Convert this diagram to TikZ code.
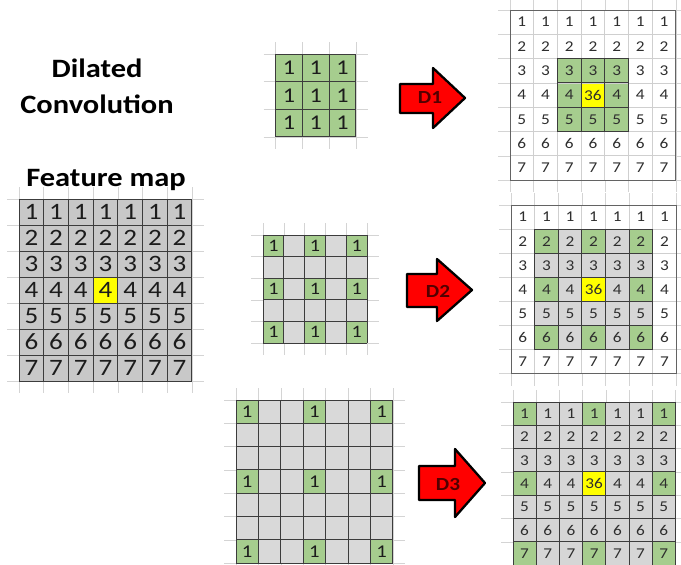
\documentclass[tikz,border=0pt]{standalone}
\usepackage{fontspec}
\setmainfont{Carlito}[FakeStretch=1.15]
\definecolor{fmgray}{HTML}{C8C8C8}
\definecolor{kgray}{HTML}{D9D9D9}
\definecolor{ogray}{HTML}{D6D6D6}
\definecolor{kgreen}{HTML}{A6CD8E}
\definecolor{hl}{HTML}{FFFF00}
\definecolor{bgline}{HTML}{D4D4D4}
\definecolor{lightline}{HTML}{CFCFCF}
\definecolor{darkline}{HTML}{3C3C3C}
\definecolor{txtdark}{HTML}{1C1C1C}
\definecolor{txtout}{HTML}{2E2E2E}
\definecolor{dred}{HTML}{520000}
\newcommand\gridlines[7]{%
  \foreach \k in {0,...,#5}{\draw[#7] ({#1+#3*\k},{#2}) -- ({#1+#3*\k},{#2+#4*#6});}%
  \foreach \k in {0,...,#6}{\draw[#7] ({#1},{#2+#4*\k}) -- ({#1+#3*#5},{#2+#4*\k});}}
\newcommand\bglines[6]{%
  \foreach \k in {0,...,#5}{\draw[bgl] ({#1+#3*\k},{#2-12}) -- ({#1+#3*\k},{#2+#4*#6+12});}%
  \foreach \k in {0,...,#6}{\draw[bgl] ({#1-12},{#2+#4*\k}) -- ({#1+#3*#5+12},{#2+#4*\k});}}
\begin{document}
\begin{tikzpicture}[x=1pt,y=-1pt,
  cell/.style={rectangle,inner sep=0pt,outer sep=0pt,anchor=center},
  bgl/.style={draw=bgline,line width=0.6pt},
  dk/.style={draw=darkline,line width=0.9pt},
  lt/.style={draw=lightline,line width=0.7pt},
  title/.style={font=\fontsize{26.5}{30}\selectfont\bfseries,anchor=base,inner sep=0pt},
  redarrow/.style={fill=red,draw=black,line width=2.3pt,line join=round},
  dlabel/.style={font=\fontsize{18.5}{20}\selectfont\bfseries,text=dred,inner sep=0pt}]
\useasboundingbox (0,0) rectangle (681,565);

% titles
\node[title] (t1) at (97,77) {Dilated};
\node[title] (t2) at (97,113) {Convolution};
\node[title] (t3) at (106,186) {Feature map};

% ---------- feature map
\bglines{19}{199}{24.7}{26}{7}{7}
\foreach \r in {0,...,6}{\foreach \c in {0,...,6}{%
  \pgfmathtruncatemacro\v{\r+1}%
  \ifnum\r=3 \ifnum\c=3 \def\fillc{hl}\else\def\fillc{fmgray}\fi\else\def\fillc{fmgray}\fi
  \node[cell,fill=\fillc,minimum width=24.7pt,minimum height=26pt,
        font=\fontsize{23.5}{25}\selectfont,text=txtdark] (fm-\r-\c)
        at ({19+24.7*(\c+0.5)},{199+26*(\r+0.5)}) {\v};
}}
\gridlines{19}{199}{24.7}{26}{7}{7}{dk}

% ---------- kernel 1
\bglines{275.7}{54}{26.7}{27.6}{3}{3}
\foreach \r in {0,...,2}{\foreach \c in {0,...,2}{%
  \node[cell,fill=kgreen,minimum width=26.7pt,minimum height=27.6pt,
        font=\fontsize{21}{23}\selectfont,text=txtdark] (ka-\r-\c)
        at ({275.7+26.7*(\c+0.5)},{54+27.6*(\r+0.5)}) {1};
}}
\gridlines{275.7}{54}{26.7}{27.6}{3}{3}{dk}

% ---------- kernel 2
\bglines{263}{235}{20.8}{21.6}{5}{5}
\foreach \r in {0,...,4}{\foreach \c in {0,...,4}{%
  \pgfmathtruncatemacro\g{(mod(\r,2)==0)*(mod(\c,2)==0)}%
  \ifnum\g=1 \def\fillc{kgreen}\def\txt{1}\else\def\fillc{kgray}\def\txt{}\fi
  \node[cell,fill=\fillc,minimum width=20.8pt,minimum height=21.6pt,
        font=\fontsize{17.5}{19}\selectfont,text=txtdark] (kb-\r-\c)
        at ({263+20.8*(\c+0.5)},{235+21.6*(\r+0.5)}) {\txt};
}}
\gridlines{263}{235}{20.8}{21.6}{5}{5}{dk}

% ---------- kernel 3
\bglines{236}{400}{22.4}{23.3}{7}{7}
\foreach \r in {0,...,6}{\foreach \c in {0,...,6}{%
  \pgfmathtruncatemacro\g{(mod(\r,3)==0)*(mod(\c,3)==0)}%
  \ifnum\g=1 \def\fillc{kgreen}\def\txt{1}\else\def\fillc{kgray}\def\txt{}\fi
  \node[cell,fill=\fillc,minimum width=22.4pt,minimum height=23.3pt,
        font=\fontsize{18}{20}\selectfont,text=txtdark] (kc-\r-\c)
        at ({236+22.4*(\c+0.5)},{400+23.3*(\r+0.5)}) {\txt};
}}
\gridlines{236}{400}{22.4}{23.3}{7}{7}{dk}

% ---------- output 1
\bglines{510}{10}{23.7}{24.3}{7}{7}
\foreach \r in {0,...,6}{\foreach \c in {0,...,6}{%
  \pgfmathtruncatemacro\g{(\r>1)*(\r<5)*(\c>1)*(\c<5)}%
  \pgfmathtruncatemacro\v{\r+1}%
  \ifnum\g=1 \def\fillc{kgreen}\else\def\fillc{white}\fi
  \def\txt{\v}%
  \ifnum\r=3 \ifnum\c=3 \def\fillc{hl}\def\txt{36}\fi\fi
  \node[cell,fill=\fillc,minimum width=23.7pt,minimum height=24.3pt,
        font=\fontsize{15}{17}\selectfont,text=txtout] (oa-\r-\c)
        at ({510+23.7*(\c+0.5)},{10+24.3*(\r+0.5)}) {\txt};
}}
\gridlines{510}{10}{23.7}{24.3}{7}{7}{lt}
\gridlines{557.4}{58.6}{23.7}{24.3}{3}{3}{dk}
\draw[draw=darkline!80,line width=0.9pt] (510,10) rectangle (675.9,180.1);

% ---------- output 2
\bglines{511}{205}{23.6}{24.1}{7}{7}
\foreach \r in {0,...,6}{\foreach \c in {0,...,6}{%
  \pgfmathtruncatemacro\gr{(\r>0)*(\r<6)*(\c>0)*(\c<6)}%
  \pgfmathtruncatemacro\g{\gr*mod(\r,2)*mod(\c,2)}%
  \pgfmathtruncatemacro\v{\r+1}%
  \ifnum\gr=1 \def\fillc{ogray}\else\def\fillc{white}\fi
  \ifnum\g=1 \def\fillc{kgreen}\fi
  \def\txt{\v}%
  \ifnum\r=3 \ifnum\c=3 \def\fillc{hl}\def\txt{36}\fi\fi
  \node[cell,fill=\fillc,minimum width=23.6pt,minimum height=24.1pt,
        font=\fontsize{15}{17}\selectfont,text=txtout] (ob-\r-\c)
        at ({511+23.6*(\c+0.5)},{205+24.1*(\r+0.5)}) {\txt};
}}
\gridlines{511}{205}{23.6}{24.1}{7}{7}{lt}
\gridlines{534.6}{229.1}{23.6}{24.1}{5}{5}{dk}
\draw[draw=darkline!80,line width=0.9pt] (511,205) rectangle (676.2,373.7);

% ---------- output 3
\bglines{513}{402}{23.2}{23.3}{7}{7}
\foreach \r in {0,...,6}{\foreach \c in {0,...,6}{%
  \pgfmathtruncatemacro\g{(mod(\r,3)==0)*(mod(\c,3)==0)}%
  \pgfmathtruncatemacro\v{\r+1}%
  \ifnum\g=1 \def\fillc{kgreen}\else\def\fillc{ogray}\fi
  \def\txt{\v}%
  \ifnum\r=3 \ifnum\c=3 \def\fillc{hl}\def\txt{36}\fi\fi
  \node[cell,fill=\fillc,minimum width=23.2pt,minimum height=23.3pt,
        font=\fontsize{15}{17}\selectfont,text=txtout] (oc-\r-\c)
        at ({513+23.2*(\c+0.5)},{402+23.3*(\r+0.5)}) {\txt};
}}
\gridlines{513}{402}{23.2}{23.3}{7}{7}{dk}

% ---------- arrows
\draw[redarrow] (400,84) -- (433,84) -- (433,68) -- (465,98) -- (433,128) -- (433,113) -- (400,113) -- cycle;
\node[dlabel] (d1) at (430,97) {D1};
\draw[redarrow] (407,274) -- (437,274) -- (437,259) -- (472,290) -- (437,321) -- (437,307) -- (407,307) -- cycle;
\node[dlabel] (d2) at (438,291) {D2};
\draw[redarrow] (419,466) -- (455,466) -- (455,449) -- (485,483) -- (455,517) -- (455,500) -- (419,500) -- cycle;
\node[dlabel] (d3) at (448,484) {D3};
\end{tikzpicture}
\end{document}
